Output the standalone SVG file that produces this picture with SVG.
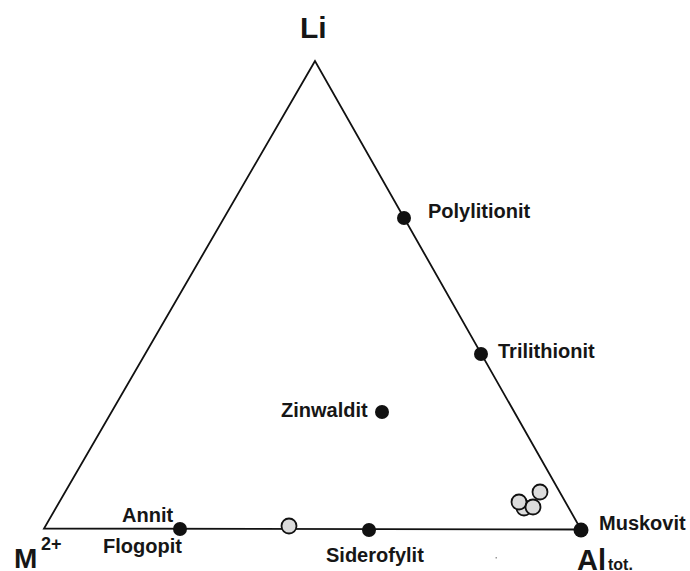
<svg xmlns="http://www.w3.org/2000/svg" width="690" height="571" viewBox="0 0 690 571">
<style>
text{font-family:"Liberation Sans",Arial,sans-serif;font-weight:bold;fill:#161616}
.lbl{font-size:20px}
.dot{fill:#111}
.open{fill:#dcdcdc;stroke:#111;stroke-width:1.8}
.edge{fill:none;stroke:#111;stroke-width:1.8;stroke-linejoin:miter}
</style>
<rect width="690" height="571" fill="#fff"/>
<g id="connectors">
<polygon class="edge" points="315,61 44,528.5 581,529.5"/>
</g>
<g id="apex-Li"><text x="300" y="38" font-size="30">Li</text></g>
<g id="apex-M"><text x="14" y="568" font-size="28">M</text><text x="41" y="550" font-size="18">2+</text></g>
<g id="apex-Al"><text x="577" y="570" font-size="29">Al</text><text x="608" y="570" font-size="16">tot.</text></g>
<g id="polylitionit"><circle class="dot" cx="404" cy="218" r="7"/><text class="lbl" x="428" y="218">Polylitionit</text></g>
<g id="trilithionit"><circle class="dot" cx="481" cy="354" r="7"/><text class="lbl" x="498" y="358">Trilithionit</text></g>
<g id="zinwaldit"><circle class="dot" cx="382" cy="412" r="7"/><text class="lbl" x="281" y="417">Zinwaldit</text></g>
<g id="annit"><circle class="dot" cx="180" cy="529" r="7"/><text class="lbl" x="122" y="522">Annit</text><text class="lbl" x="103" y="553">Flogopit</text></g>
<g id="siderofylit"><circle class="dot" cx="369" cy="530" r="7"/><text class="lbl" x="326" y="562">Siderofylit</text></g>
<g id="muskovit"><circle class="dot" cx="581" cy="530" r="7.5"/><text class="lbl" x="599" y="530">Muskovit</text></g>
<g id="samples">
<circle class="open" cx="289" cy="526" r="7.5"/>
<circle class="open" cx="524" cy="508" r="7.5"/>
<circle class="open" cx="519" cy="502" r="7.5"/>
<circle class="open" cx="533" cy="507" r="7.5"/>
<circle class="open" cx="540" cy="492" r="7.5"/>
</g>
<rect x="495.5" y="557" width="1.5" height="1.5" fill="#999"/>
</svg>
